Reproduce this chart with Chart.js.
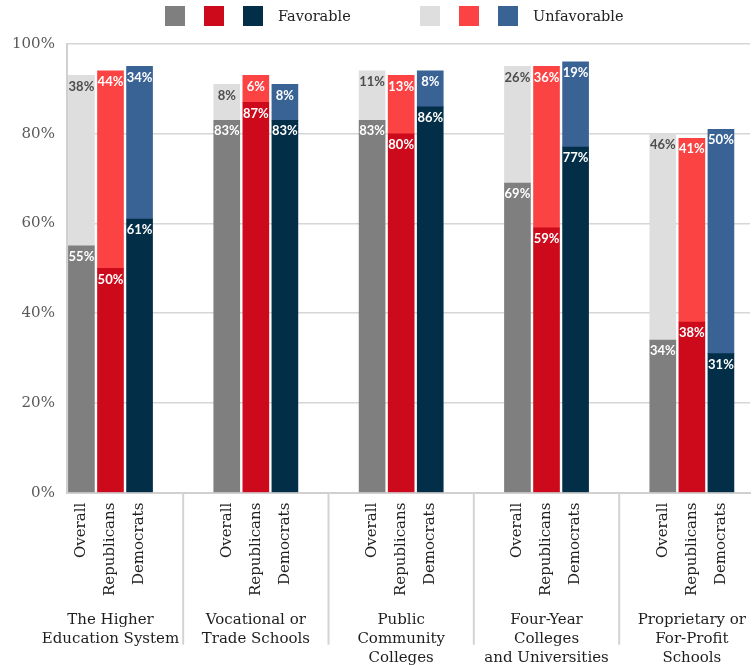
<!DOCTYPE html>
<html><head><meta charset="utf-8">
<script src="https://cdn.jsdelivr.net/npm/chart.js@4"></script>
<style>html,body{margin:0;padding:0;background:#fff}#wrap{width:755px;height:665px;position:relative}</style>
</head><body><div id="wrap"><canvas id="c"></canvas></div>
<script>
const groups = [
  ['The Higher','Education System'],
  ['Vocational or','Trade Schools'],
  ['Public','Community','Colleges'],
  ['Four-Year','Colleges','and Universities'],
  ['Proprietary or','For-Profit','Schools']
];
const subgroups = ['Overall','Republicans','Democrats'];
const favorable   = [55,50,61, 83,87,83, 83,80,86, 69,59,77, 34,38,31];
const unfavorable = [38,44,34,  8, 6, 8, 11,13, 8, 26,36,19, 46,41,50];
const yTicks = [0,20,40,60,80,100];
const legendLabels = ['Favorable','Unfavorable'];

const favColors = ['#7f7f7f','#cc0a1b','#022e48'];
const unfavColors = ['#dedede','#fc4343','#3a6395'];
const SLOTS = 5;
const xPos = favorable.map((_,k)=> Math.floor(k/3)*SLOTS + (k%3));
const serif = 'DejaVu Serif';

const decor = {
  id:'decor',
  afterDatasetsDraw(chart){
    const ctx = chart.ctx;
    ctx.save();
    ctx.font = 'bold 13px Lato';
    ctx.textAlign = 'center';
    ctx.textBaseline = 'middle';
    [favorable, unfavorable].forEach((vals,d)=>{
      const meta = chart.getDatasetMeta(d);
      meta.data.forEach((el,k)=>{
        ctx.fillStyle = (d===1 && k%3===0) ? '#4d4d4d' : '#ffffff';
        ctx.fillText(vals[k]+'%', el.x, el.y+11);
      });
    });
    ctx.restore();
  },
  afterDraw(chart){
    const ctx = chart.ctx;
    const xs = chart.scales.x;
    const ca = chart.chartArea;
    ctx.save();
    ctx.strokeStyle = '#d3d3d3';
    ctx.lineWidth = 2;
    for (let g=1; g<groups.length; g++){
      const px = xs.getPixelForValue(g*SLOTS - 1.5);
      ctx.beginPath();
      ctx.moveTo(px, ca.bottom);
      ctx.lineTo(px, ca.bottom + 152);
      ctx.stroke();
    }
    ctx.font = '15px "' + serif + '"';
    ctx.fillStyle = '#1e1e1e';
    ctx.textAlign = 'center';
    ctx.textBaseline = 'alphabetic';
    groups.forEach((lines,g)=>{
      const cx = xs.getPixelForValue(g*SLOTS + 1);
      lines.forEach((t,i)=>{
        ctx.fillText(t, cx, ca.bottom + 131 + i*19);
      });
    });
    const sq = 20, top = 6;
    const starts = [165, 420];
    legendLabels.forEach((lab,j)=>{
      const cols = j===0 ? favColors : unfavColors;
      cols.forEach((c,i)=>{
        ctx.fillStyle = c;
        ctx.fillRect(starts[j] + i*39, top, sq, sq);
      });
      ctx.fillStyle = '#222';
      ctx.font = '14.5px "' + serif + '"';
      ctx.textAlign = 'left';
      ctx.textBaseline = 'middle';
      ctx.fillText(lab, starts[j] + 3*39 - 4, top + sq/2 + 1);
    });
    ctx.restore();
  }
};

new Chart(document.getElementById('c'), {
  type:'bar',
  data:{datasets:[
    {label:legendLabels[0], data: favorable.map((v,k)=>({x:xPos[k], y:v})),
     backgroundColor: favorable.map((_,k)=>favColors[k%3]), barThickness:26, stack:'s'},
    {label:legendLabels[1], data: unfavorable.map((v,k)=>({x:xPos[k], y:v})),
     backgroundColor: unfavorable.map((_,k)=>unfavColors[k%3]), barThickness:26, stack:'s'}
  ]},
  options:{
    responsive:true, maintainAspectRatio:false, animation:false,
    layout:{padding:{top:44, left:0, right:5, bottom:59}},
    plugins:{legend:{display:false}, tooltip:{enabled:false}},
    scales:{
      x:{type:'linear', min:-0.5, max:23, offset:false, stacked:true,
        grid:{drawOnChartArea:false, drawTicks:false},
        border:{display:true, color:'#d0d0d0', width:2},
        afterBuildTicks: ax => { ax.ticks = xPos.map(v=>({value:v})); },
        ticks:{autoSkip:false, minRotation:90, maxRotation:90, padding:10,
          font:{family:serif, size:15}, color:'#1e1e1e',
          callback: v => { const k = xPos.indexOf(v); return k>=0 ? subgroups[k%3] : ''; }}
      },
      y:{min:0, max:100, stacked:true,
        afterBuildTicks: ax => { ax.ticks = yTicks.map(v=>({value:v})); },
        grid:{color:'#d6d6d6', lineWidth:1.5, drawTicks:false},
        border:{display:true, color:'#d0d0d0', width:2},
        ticks:{padding:12, font:{family:serif, size:15}, color:'#595959', callback: v => v+'%'}
      }
    }
  },
  plugins:[decor]
});
</script>
</body></html>
